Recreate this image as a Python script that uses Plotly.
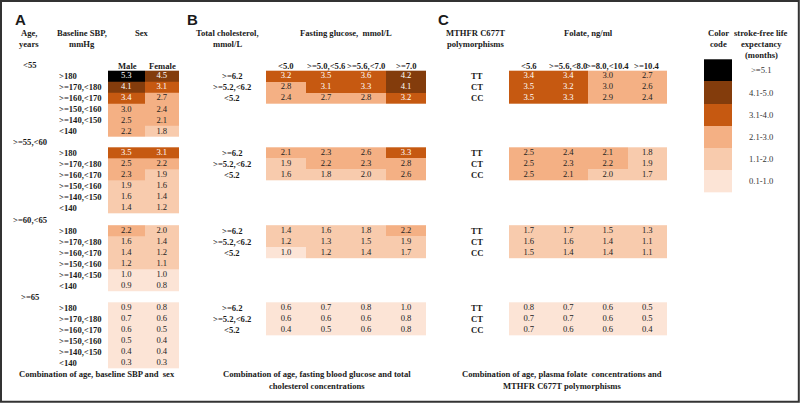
import plotly.graph_objects as go

# ---------------- DATA ----------------
age_groups = ["<55", ">=55,<60", ">=60,<65", ">=65"]
sbp_labels = [">180", ">=170,<180", ">=160,<170", ">=150,<160", ">=140,<150", "<140"]
sex_labels = ["Male", "Female"]
a_male = [
    [5.3, 4.1, 3.4, 3.0, 2.5, 2.2],
    [3.5, 2.5, 2.3, 1.9, 1.6, 1.4],
    [2.2, 1.6, 1.4, 1.2, 1.0, 0.9],
    [0.9, 0.7, 0.6, 0.5, 0.4, 0.3],
]
a_female = [
    [4.5, 3.1, 2.7, 2.4, 2.1, 1.8],
    [3.1, 2.2, 1.9, 1.6, 1.4, 1.2],
    [2.0, 1.4, 1.2, 1.1, 1.0, 0.8],
    [0.8, 0.6, 0.5, 0.4, 0.4, 0.3],
]

chol_labels = [">=6.2", ">=5.2,<6.2", "<5.2"]
glucose_labels = ["<5.0", ">=5.0,<5.6", ">=5.6,<7.0", ">=7.0"]
b_values = [
    [[3.2, 3.5, 3.6, 4.2], [2.8, 3.1, 3.3, 4.1], [2.4, 2.7, 2.8, 3.2]],
    [[2.1, 2.3, 2.6, 3.3], [1.9, 2.2, 2.3, 2.8], [1.6, 1.8, 2.0, 2.6]],
    [[1.4, 1.6, 1.8, 2.2], [1.2, 1.3, 1.5, 1.9], [1.0, 1.2, 1.4, 1.7]],
    [[0.6, 0.7, 0.8, 1.0], [0.6, 0.6, 0.6, 0.8], [0.4, 0.5, 0.6, 0.8]],
]

genotype_labels = ["TT", "CT", "CC"]
folate_labels = ["<5.6", ">=5.6,<8.0", ">=8.0,<10.4", ">=10.4"]
c_values = [
    [[3.4, 3.4, 3.0, 2.7], [3.5, 3.2, 3.0, 2.6], [3.5, 3.3, 2.9, 2.4]],
    [[2.5, 2.4, 2.1, 1.8], [2.5, 2.3, 2.2, 1.9], [2.5, 2.1, 2.0, 1.7]],
    [[1.7, 1.7, 1.5, 1.3], [1.6, 1.6, 1.4, 1.1], [1.5, 1.4, 1.4, 1.1]],
    [[0.8, 0.7, 0.6, 0.5], [0.7, 0.7, 0.6, 0.5], [0.7, 0.6, 0.6, 0.4]],
]

legend_labels = [">=5.1", "4.1-5.0", "3.1-4.0", "2.1-3.0", "1.1-2.0", "0.1-1.0"]
legend_codes = [5, 4, 3, 2, 1, 0]

# ---------------- STYLE ----------------
palette = ["#FCE4D6", "#F8CBAD", "#F4B084", "#C65911", "#833C0C", "#000000"]
SERIF = "Liberation Serif, Times New Roman, serif"
SANS = "Liberation Sans, Arial, sans-serif"
FS = 8.6
DARK = "#1a1a1a"

colorscale = []
for i, c in enumerate(palette):
    colorscale.append([i / 6, c])
    colorscale.append([(i + 1) / 6, c])


def code(v):
    for k, t in zip([5, 4, 3, 2, 1], [5.05, 4.05, 3.05, 2.05, 1.05]):
        if v >= t:
            return k
    return 0


def text_color(v):
    return "#ffffff" if code(v) >= 3 else "#222222"


fig = go.Figure()
annotations = []


def txt(x, y, s, size=FS, bold=True, anchor="center", family=SERIF, color=DARK):
    annotations.append(dict(
        x=x, y=y, xref="x", yref="y", text=s, showarrow=False,
        xanchor=anchor, yanchor="middle",
        font=dict(family=family, size=size, color=color,
                  weight="bold" if bold else "normal"),
    ))


def block(xedges, top, h, z):
    nrows = len(z)
    yedges = [top + h * i for i in range(nrows + 1)]
    zc = [[code(v) for v in row] for row in z]
    fig.add_trace(go.Heatmap(
        x=xedges, y=yedges, z=zc, zmin=-0.5, zmax=5.5,
        colorscale=colorscale, showscale=False, hoverinfo="skip",
    ))
    xs, ys, ts, cs = [], [], [], []
    for r, row in enumerate(z):
        for c, v in enumerate(row):
            xs.append((xedges[c] + xedges[c + 1]) / 2)
            ys.append(top + h * (r + 0.5))
            ts.append(f"{v:.1f}")
            cs.append(text_color(v))
    fig.add_trace(go.Scatter(
        x=xs, y=ys, text=ts, mode="text", hoverinfo="skip",
        textfont=dict(family=SERIF, size=FS, color=cs), showlegend=False,
    ))


tops = [70.7, 147.3, 225.2, 302.3]
H = 11.05

# ---------------- PANEL A ----------------
txt(13, 19.5, "A", size=15, family=SANS, anchor="left")
txt(29, 33, "Age,")
txt(29, 44, "years")
txt(82, 33, "Baseline SBP,")
txt(82, 44, "mmHg")
txt(142, 33, "Sex")
txt(127, 65.5, sex_labels[0])
txt(162, 65.5, sex_labels[1])
a_x = [108, 144.5, 179]
for g in range(4):
    txt(30, tops[g] - 5.5, age_groups[g])
    z = [[a_male[g][r], a_female[g][r]] for r in range(6)]
    block(a_x, tops[g], H, z)
    for r, lab in enumerate(sbp_labels):
        txt(57, tops[g] + H * (r + 0.5), lab, anchor="left")
txt(97, 374, "Combination of age, baseline SBP and  sex")

# ---------------- PANEL B ----------------
txt(185, 19.5, "B", size=15, family=SANS, anchor="left")
txt(227, 33, "Total cholesterol,")
txt(227, 44, "mmol/L")
txt(346, 33, "Fasting glucose,  mmol/L")
b_x = [266, 306, 346, 386, 426]
for c, lab in enumerate(glucose_labels):
    txt((b_x[c] + b_x[c + 1]) / 2, 65.5, lab)
for g in range(4):
    block(b_x, tops[g], H, b_values[g])
    for r, lab in enumerate(chol_labels):
        txt(232, tops[g] + H * (r + 0.5), lab)
txt(317, 374, "Combination of age, fasting blood glucose and total")
txt(317, 386, "cholesterol concentrations")

# ---------------- PANEL C ----------------
txt(436, 19.5, "C", size=15, family=SANS, anchor="left")
txt(475, 33, "MTHFR C677T")
txt(475, 44, "polymorphisms")
txt(588, 33, "Folate, ng/ml")
c_x = [509, 548.5, 588, 627.5, 667]
for c, lab in enumerate(folate_labels):
    txt((c_x[c] + c_x[c + 1]) / 2, 65.5, lab)
for g in range(4):
    block(c_x, tops[g], H, c_values[g])
    for r, lab in enumerate(genotype_labels):
        txt(477, tops[g] + H * (r + 0.5), lab)
txt(562, 374, "Combination of age, plasma folate  concentrations and")
txt(562, 386, "MTHFR C677T polymorphisms")

# ---------------- LEGEND ----------------
txt(718, 33, "Color")
txt(718, 44, "code")
txt(761, 33, "stroke-free life")
txt(761, 44, "expectancy")
txt(761, 55, "(months)")
lg_top, lg_h = 59.3, 22.17
fig.add_trace(go.Heatmap(
    x=[704, 732], y=[lg_top + lg_h * i for i in range(7)],
    z=[[k] for k in legend_codes], zmin=-0.5, zmax=5.5,
    colorscale=colorscale, showscale=False, hoverinfo="skip",
))
for i, lab in enumerate(legend_labels):
    txt(761, lg_top + lg_h * (i + 0.5), lab, bold=False, color="#333333")

fig.update_layout(
    width=800, height=403,
    margin=dict(l=0, r=0, t=0, b=0),
    paper_bgcolor="white", plot_bgcolor="white",
    xaxis=dict(range=[0, 800], visible=False, fixedrange=True),
    yaxis=dict(range=[403, 0], visible=False, fixedrange=True),
    showlegend=False,
    annotations=annotations,
    shapes=[dict(type="rect", xref="x", yref="y", x0=1, y0=1, x1=798.8, y1=401.8,
                 line=dict(color="#333333", width=2))],
)

fig.write_html(
    "out.html",
    config={"displayModeBar": False},
    post_script="document.body.style.margin='0';document.body.style.overflow='hidden';",
)
